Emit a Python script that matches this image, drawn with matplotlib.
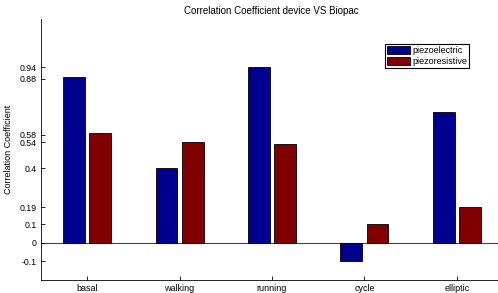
import numpy as np
import matplotlib.pyplot as plt

categories = ["basal", "walking", "running", "cycle", "elliptic"]
piezoelectric = [0.89, 0.40, 0.94, -0.10, 0.70]
piezoresistive = [0.59, 0.54, 0.53, 0.10, 0.19]
yticks = [-0.1, 0, 0.1, 0.19, 0.4, 0.54, 0.58, 0.88, 0.94]
yticklabels = ["-0.1", "0", "0.1", "0.19", "0.4", "0.54", "0.58", "0.88", "0.94"]

plt.rcParams["font.family"] = ["Liberation Sans", "DejaVu Sans"]
plt.rcParams["font.size"] = 6.5

fig = plt.figure(figsize=(4.98, 2.93), dpi=100)
ax = fig.add_axes([41 / 498, 1 - 280 / 293, 462 / 498, 261 / 293])

x = np.arange(1, len(categories) + 1)
w = 0.235
ax.bar(x - 0.142, piezoelectric, w, color="#00008f", edgecolor="black", linewidth=0.6, label="piezoelectric")
ax.bar(x + 0.142, piezoresistive, w, color="#800000", edgecolor="black", linewidth=0.6, label="piezoresistive")
ax.axhline(0, color="#444444", linewidth=0.8, zorder=0)

ax.set_xlim(0.5, 5.5)
ax.set_ylim(-0.2, 1.2)
ax.set_xticks(x)
ax.set_xticklabels(categories)
ax.set_yticks(yticks)
ax.set_yticklabels(yticklabels, fontsize=6.3)
ax.tick_params(direction="in", length=3, width=0.6, pad=3)
for s in ["top", "right"]:
    ax.spines[s].set_visible(False)
for s in ["left", "bottom"]:
    ax.spines[s].set_linewidth(0.6)

ax.set_ylabel("Correlation Coefficient")
ax.yaxis.set_label_coords((13 - 41) / 462, 0.5)
fig.text(271 / 498, 1 - 11 / 293, "Correlation Coefficient device VS Biopac", ha="center", va="center", fontsize=7)

leg = ax.legend(loc="upper left", bbox_to_anchor=(385 / 498, 1 - 44 / 293), bbox_transform=fig.transFigure,
                borderaxespad=0, fancybox=False, edgecolor="black", framealpha=1,
                handlelength=2.6, handleheight=1.1, handletextpad=0.2, borderpad=0.2, labelspacing=0.15)
leg.get_frame().set_linewidth(0.8)

fig.savefig("out.png", dpi=100)
